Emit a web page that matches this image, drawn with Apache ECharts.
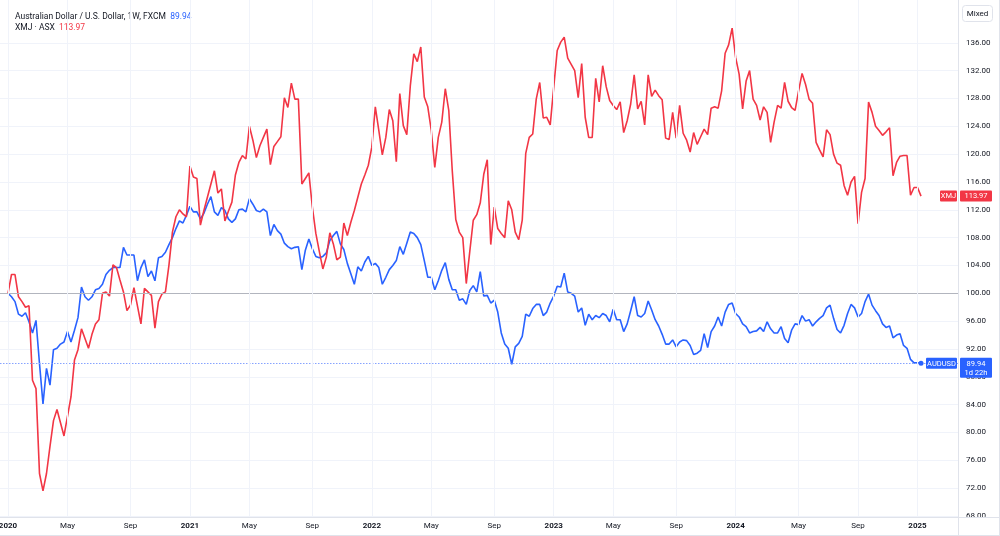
<!DOCTYPE html>
<html>
<head>
<meta charset="utf-8">
<script src="https://cdn.jsdelivr.net/npm/echarts@6/dist/echarts.min.js"></script>
<style>
  html, body { margin: 0; padding: 0; background: #fff; }
  #chart { width: 1000px; height: 536px; }
</style>
</head>
<body>
<div id="chart"></div>
<script>
// weekly closes rebased to 100 at the first bar (week of 2020-01-06), one value per bar
const xmj = [
  100.0, 102.7, 102.7, 99.5, 98.8, 98.0, 98.2, 87.5, 86.3, 74.1,
  71.6, 74.1, 78.0, 81.7, 83.3, 81.4, 79.5, 82.3, 85.1, 90.4,
  91.9, 94.9, 93.5, 92.1, 94.1, 95.6, 96.2, 100.0, 100.2, 99.6,
  104.1, 103.7, 101.9, 100.2, 97.5, 98.3, 100.8, 98.2, 95.6, 100.7,
  100.2, 99.7, 95.0, 98.8, 99.9, 100.2, 104.0, 108.8, 111.0, 112.0,
  111.4, 111.0, 118.3, 116.7, 116.5, 109.8, 111.9, 113.8, 115.7, 117.6,
  114.4, 115.0, 110.4, 111.8, 113.1, 117.0, 118.8, 119.8, 119.3, 124.0,
  122.0, 119.5, 121.2, 122.4, 123.6, 118.5, 121.1, 121.8, 122.5, 128.1,
  126.7, 130.2, 127.9, 127.9, 115.7, 116.5, 117.3, 112.4, 108.6, 106.0,
  103.5, 105.2, 108.7, 107.1, 104.8, 105.2, 110.1, 108.3, 110.2, 111.9,
  113.8, 115.7, 117.0, 118.4, 121.0, 126.8, 123.4, 119.9, 122.4, 126.4,
  124.8, 118.9, 128.7, 124.1, 122.8, 129.8, 134.4, 133.3, 135.4, 128.2,
  126.8, 123.4, 118.1, 122.4, 124.6, 129.4, 126.3, 117.6, 110.6, 108.8,
  108.0, 101.4, 106.0, 110.5, 111.3, 113.0, 117.1, 119.2, 107.0, 112.4,
  109.3, 108.6, 108.0, 113.3, 112.0, 108.8, 107.7, 110.5, 120.1, 122.4,
  122.9, 127.9, 130.3, 125.2, 125.3, 124.2, 129.6, 134.9, 136.1, 136.8,
  133.8, 132.9, 132.0, 128.1, 133.0, 125.3, 122.4, 122.4, 130.9, 127.5,
  132.7, 129.7, 127.7, 127.0, 126.4, 127.5, 123.1, 124.8, 127.2, 131.4,
  126.5, 127.6, 124.2, 131.4, 128.3, 129.2, 128.4, 127.8, 122.3, 122.1,
  126.0, 122.3, 127.0, 123.0, 122.0, 120.3, 123.1, 121.4, 122.5, 123.6,
  122.8, 126.6, 126.8, 126.6, 129.1, 134.5, 135.7, 138.1, 133.9, 131.5,
  126.5, 130.5, 132.0, 127.9, 127.0, 124.9, 126.8, 126.0, 121.7, 124.6,
  127.0, 126.6, 130.3, 127.6, 126.7, 126.3, 129.1, 131.6, 130.0, 127.9,
  127.3, 121.7, 120.6, 119.6, 123.5, 122.8, 120.0, 118.7, 118.4, 115.5,
  114.1, 116.0, 116.8, 110.0, 114.5, 116.5, 127.5, 126.0, 124.0, 123.4,
  122.7, 123.2, 123.8, 116.9, 118.8, 119.7, 119.8, 119.8, 114.1, 115.2,
  115.2, 113.97
];
const audusd = [
  100.0, 99.5, 98.8, 97.0, 96.7, 97.2, 95.9, 94.3, 96.1, 89.9,
  84.1, 89.2, 86.8, 91.9, 92.1, 92.7, 93.0, 94.5, 93.0, 94.7,
  96.5, 100.9, 99.5, 99.0, 99.5, 100.5, 100.7, 101.3, 102.7, 103.3,
  103.7, 103.7, 103.7, 106.6, 105.5, 105.5, 105.5, 101.8, 103.7, 104.8,
  102.4, 103.2, 101.8, 105.1, 105.3, 105.9, 107.0, 108.0, 109.3, 110.4,
  110.1, 111.2, 112.5, 111.7, 111.7, 110.7, 111.5, 112.8, 113.9, 111.7,
  111.2, 112.3, 111.9, 110.7, 110.2, 110.7, 112.0, 112.1, 111.7, 113.6,
  112.8, 111.9, 111.7, 112.1, 111.7, 108.3, 109.9, 109.0, 108.5, 107.2,
  106.7, 106.4, 106.6, 106.7, 103.4, 106.2, 107.8, 106.4, 105.3, 105.1,
  105.3, 105.8, 107.6, 108.3, 108.9, 107.1, 106.3, 104.3, 102.8, 101.3,
  103.8, 103.2, 104.5, 105.3, 104.0, 104.3, 103.7, 101.3, 102.3, 103.4,
  104.0, 104.7, 106.7, 105.6, 107.2, 108.8, 108.6, 108.0, 107.0, 104.7,
  102.3, 102.3, 100.5, 101.8, 103.3, 104.4, 102.0, 100.5, 100.5, 99.0,
  99.2, 98.4, 100.4, 101.1, 100.2, 103.1, 99.6, 99.7, 98.6, 99.0,
  97.3, 94.3, 92.7, 92.1, 89.8, 92.3, 92.8, 93.8, 97.0, 96.7,
  97.8, 98.4, 98.4, 96.8, 97.3, 98.6, 99.6, 101.0, 100.9, 102.9,
  100.2, 100.0, 99.6, 97.3, 97.9, 95.4, 97.0, 96.2, 96.8, 96.5,
  97.1, 96.8, 95.9, 97.7, 96.2, 96.2, 94.5, 95.6, 97.5, 99.5,
  96.8, 96.6, 97.1, 98.9, 97.6, 96.2, 95.3, 94.1, 92.7, 92.7,
  93.3, 92.3, 93.0, 93.3, 93.2, 92.5, 91.2, 91.4, 91.8, 94.2,
  92.2, 94.5, 95.3, 96.6, 95.3, 97.3, 98.4, 98.6, 97.1, 96.6,
  95.6, 95.2, 94.3, 94.5, 94.6, 95.1, 94.5, 95.9, 94.9, 94.3,
  94.3, 95.2, 93.5, 92.9, 94.7, 95.6, 95.5, 96.8, 96.0, 96.2,
  95.3, 95.9, 96.4, 96.8, 97.9, 98.3, 96.4, 94.8, 94.3, 95.4,
  97.1, 98.4, 97.9, 96.6, 97.1, 98.8, 99.9, 98.3, 97.5, 96.8,
  95.6, 95.1, 95.3, 93.6, 94.0, 94.2, 92.5, 92.1, 90.5, 90.0,
  90.0, 89.94
];

// time scale labels: bar index -> text
const tickIndex = [0, 17, 35, 52, 69, 87, 104, 121, 139, 156, 173, 191, 208, 226, 243, 260];
const tickText = ['2020', 'May', 'Sep', '2021', 'May', 'Sep', '2022', 'May', 'Sep',
                  '2023', 'May', 'Sep', '2024', 'May', 'Sep', '2025'];
// price scale labels
const priceTicks = [68, 72, 76, 80, 84, 88, 92, 96, 100, 104, 108, 112, 116, 120, 124, 128, 132, 136];

const RED = '#f23645';
const BLUE = '#2962ff';
const TEXT = '#131722';
const GRID = '#f0f3fa';
const BORDER = '#e0e3eb';
const FONT = 'Roboto, sans-serif';

const lastXmj = xmj[xmj.length - 1];
const lastAud = audusd[audusd.length - 1];

const chart = echarts.init(document.getElementById('chart'), null, { renderer: 'canvas' });

chart.setOption({
  animation: false,
  backgroundColor: '#fff',
  textStyle: { fontFamily: FONT },
  title: {
    left: 10,
    top: 6,
    text: '{n|Australian Dollar / U.S. Dollar, 1W, FXCM}  {b|' + lastAud.toFixed(2) + '}\n' +
          '{n|XMJ · ASX}  {r|' + lastXmj.toFixed(2) + '}',
    textStyle: {
      fontSize: 8.5,
      lineHeight: 11,
      fontWeight: 'normal',
      rich: {
        n: { color: TEXT, fontSize: 8.5, fontFamily: FONT, lineHeight: 11 },
        b: { color: BLUE, fontSize: 8.5, fontFamily: FONT, lineHeight: 11 },
        r: { color: RED, fontSize: 8.5, fontFamily: FONT, lineHeight: 11 }
      }
    }
  },
  grid: { left: 0, right: 42, top: 0, bottom: 19, containLabel: false, outerBoundsMode: 'none' },
  xAxis: {
    type: 'value',
    min: -2.29,
    max: 271.57,
    z: 10,
    axisLine: { show: true, lineStyle: { color: BORDER, width: 1 } },
    axisTick: { show: false, customValues: tickIndex },
    splitLine: { show: true, lineStyle: { color: GRID, width: 1 } },
    axisLabel: {
      customValues: tickIndex,
      margin: 5,
      fontSize: 8,
      color: TEXT,
      formatter: function (v) {
        const t = tickText[tickIndex.indexOf(v)];
        return /^\d/.test(t) ? '{y|' + t + '}' : '{m|' + t + '}';
      },
      rich: {
        y: { fontSize: 8, fontWeight: 'bold', color: TEXT, fontFamily: FONT },
        m: { fontSize: 8, color: TEXT, fontFamily: FONT }
      }
    }
  },
  yAxis: {
    type: 'value',
    position: 'right',
    min: 67.85,
    max: 142.15,
    z: 0,
    axisLine: { show: true, lineStyle: { color: BORDER, width: 1 } },
    axisTick: { show: false, customValues: priceTicks },
    splitLine: { show: true, lineStyle: { color: GRID, width: 1 } },
    axisLabel: {
      customValues: priceTicks,
      margin: 8,
      fontSize: 8,
      color: TEXT,
      formatter: v => v.toFixed(2)
    }
  },
  series: [
    {
      name: 'AUDUSD',
      type: 'line',
      data: audusd.map((v, i) => [i, v]),
      showSymbol: false,
      lineStyle: { color: BLUE, width: 1.6 },
      itemStyle: { color: BLUE },
      z: 3,
      silent: true,
      markLine: {
        silent: true,
        symbol: ['none', 'none'],
        label: { show: false },
        lineStyle: { color: '#86a3ff', type: [1.5, 1.5], width: 1, opacity: 1 },
        data: [{ yAxis: lastAud }]
      },
      markPoint: {
        silent: true,
        symbol: 'circle',
        symbolSize: 5,
        label: { show: false },
        itemStyle: { color: BLUE },
        data: [{ coord: [audusd.length - 1, lastAud] }]
      }
    },
    {
      name: 'XMJ',
      type: 'line',
      data: xmj.map((v, i) => [i, v]),
      showSymbol: false,
      lineStyle: { color: RED, width: 1.6 },
      itemStyle: { color: RED },
      z: 4,
      silent: true,
      markLine: {
        silent: true,
        symbol: ['none', 'none'],
        label: { show: false },
        lineStyle: { color: '#b2b5be', type: 'solid', width: 1 },
        data: [{ yAxis: 100 }]
      }
    }
  ]
});

// price scale tags and frame, placed through the axis scale
const W = chart.getWidth();
const H = chart.getHeight();
const axisX = W - 42;
const yR = chart.convertToPixel({ yAxisIndex: 0 }, lastXmj);
const yB = chart.convertToPixel({ yAxisIndex: 0 }, lastAud);
const tagFont = '7.5px ' + FONT;

function tagText(x, y, s) {
  return { type: 'text', z: 22, style: { x: x, y: y, text: s, fill: '#fff', font: tagFont, align: 'center', verticalAlign: 'middle' } };
}

chart.setOption({
  graphic: [
    // white strip under the plot so price labels are cut at the time scale
    { type: 'rect', z: 5, shape: { x: 0, y: H - 18, width: W, height: 18 }, style: { fill: '#fff' } },
    { type: 'line', z: 6, shape: { x1: 0, y1: H - 18.5, x2: W, y2: H - 18.5 }, style: { stroke: BORDER, lineWidth: 1 } },
    { type: 'line', z: 6, shape: { x1: 0, y1: H - 0.5, x2: W, y2: H - 0.5 }, style: { stroke: BORDER, lineWidth: 1 } },
    { type: 'line', z: 6, shape: { x1: axisX + 0.5, y1: 0, x2: axisX + 0.5, y2: H }, style: { stroke: BORDER, lineWidth: 1 } },
    { type: 'line', z: 6, shape: { x1: W - 0.5, y1: 0, x2: W - 0.5, y2: H }, style: { stroke: BORDER, lineWidth: 1 } },
    // Mixed button
    { type: 'rect', z: 20, shape: { x: axisX + 4.5, y: 5.5, width: 30, height: 16, r: 3 }, style: { fill: '#fff', stroke: BORDER, lineWidth: 1 } },
    { type: 'text', z: 21, style: { x: axisX + 19.5, y: 13.5, text: 'Mixed', fill: TEXT, font: '8px ' + FONT, align: 'center', verticalAlign: 'middle' } },
    // XMJ tags
    { type: 'rect', z: 21, shape: { x: axisX - 18, y: yR - 5.5, width: 17, height: 11, r: 1 }, style: { fill: RED } },
    tagText(axisX - 9.5, yR + 0.5, 'XMJ'),
    { type: 'rect', z: 21, shape: { x: axisX + 2, y: yR - 5.5, width: 32, height: 11, r: 1 }, style: { fill: RED } },
    tagText(axisX + 18, yR + 0.5, lastXmj.toFixed(2)),
    // AUDUSD tags
    { type: 'rect', z: 21, shape: { x: axisX - 32, y: yB - 5.5, width: 31, height: 11, r: 1 }, style: { fill: BLUE } },
    tagText(axisX - 16.5, yB + 0.5, 'AUDUSD'),
    { type: 'rect', z: 21, shape: { x: axisX + 2, y: yB - 5.5, width: 32, height: 20, r: 1 }, style: { fill: BLUE } },
    tagText(axisX + 18, yB + 0.5, lastAud.toFixed(2)),
    tagText(axisX + 18, yB + 9.5, '1d 22h')
  ]
});
</script>
</body>
</html>
